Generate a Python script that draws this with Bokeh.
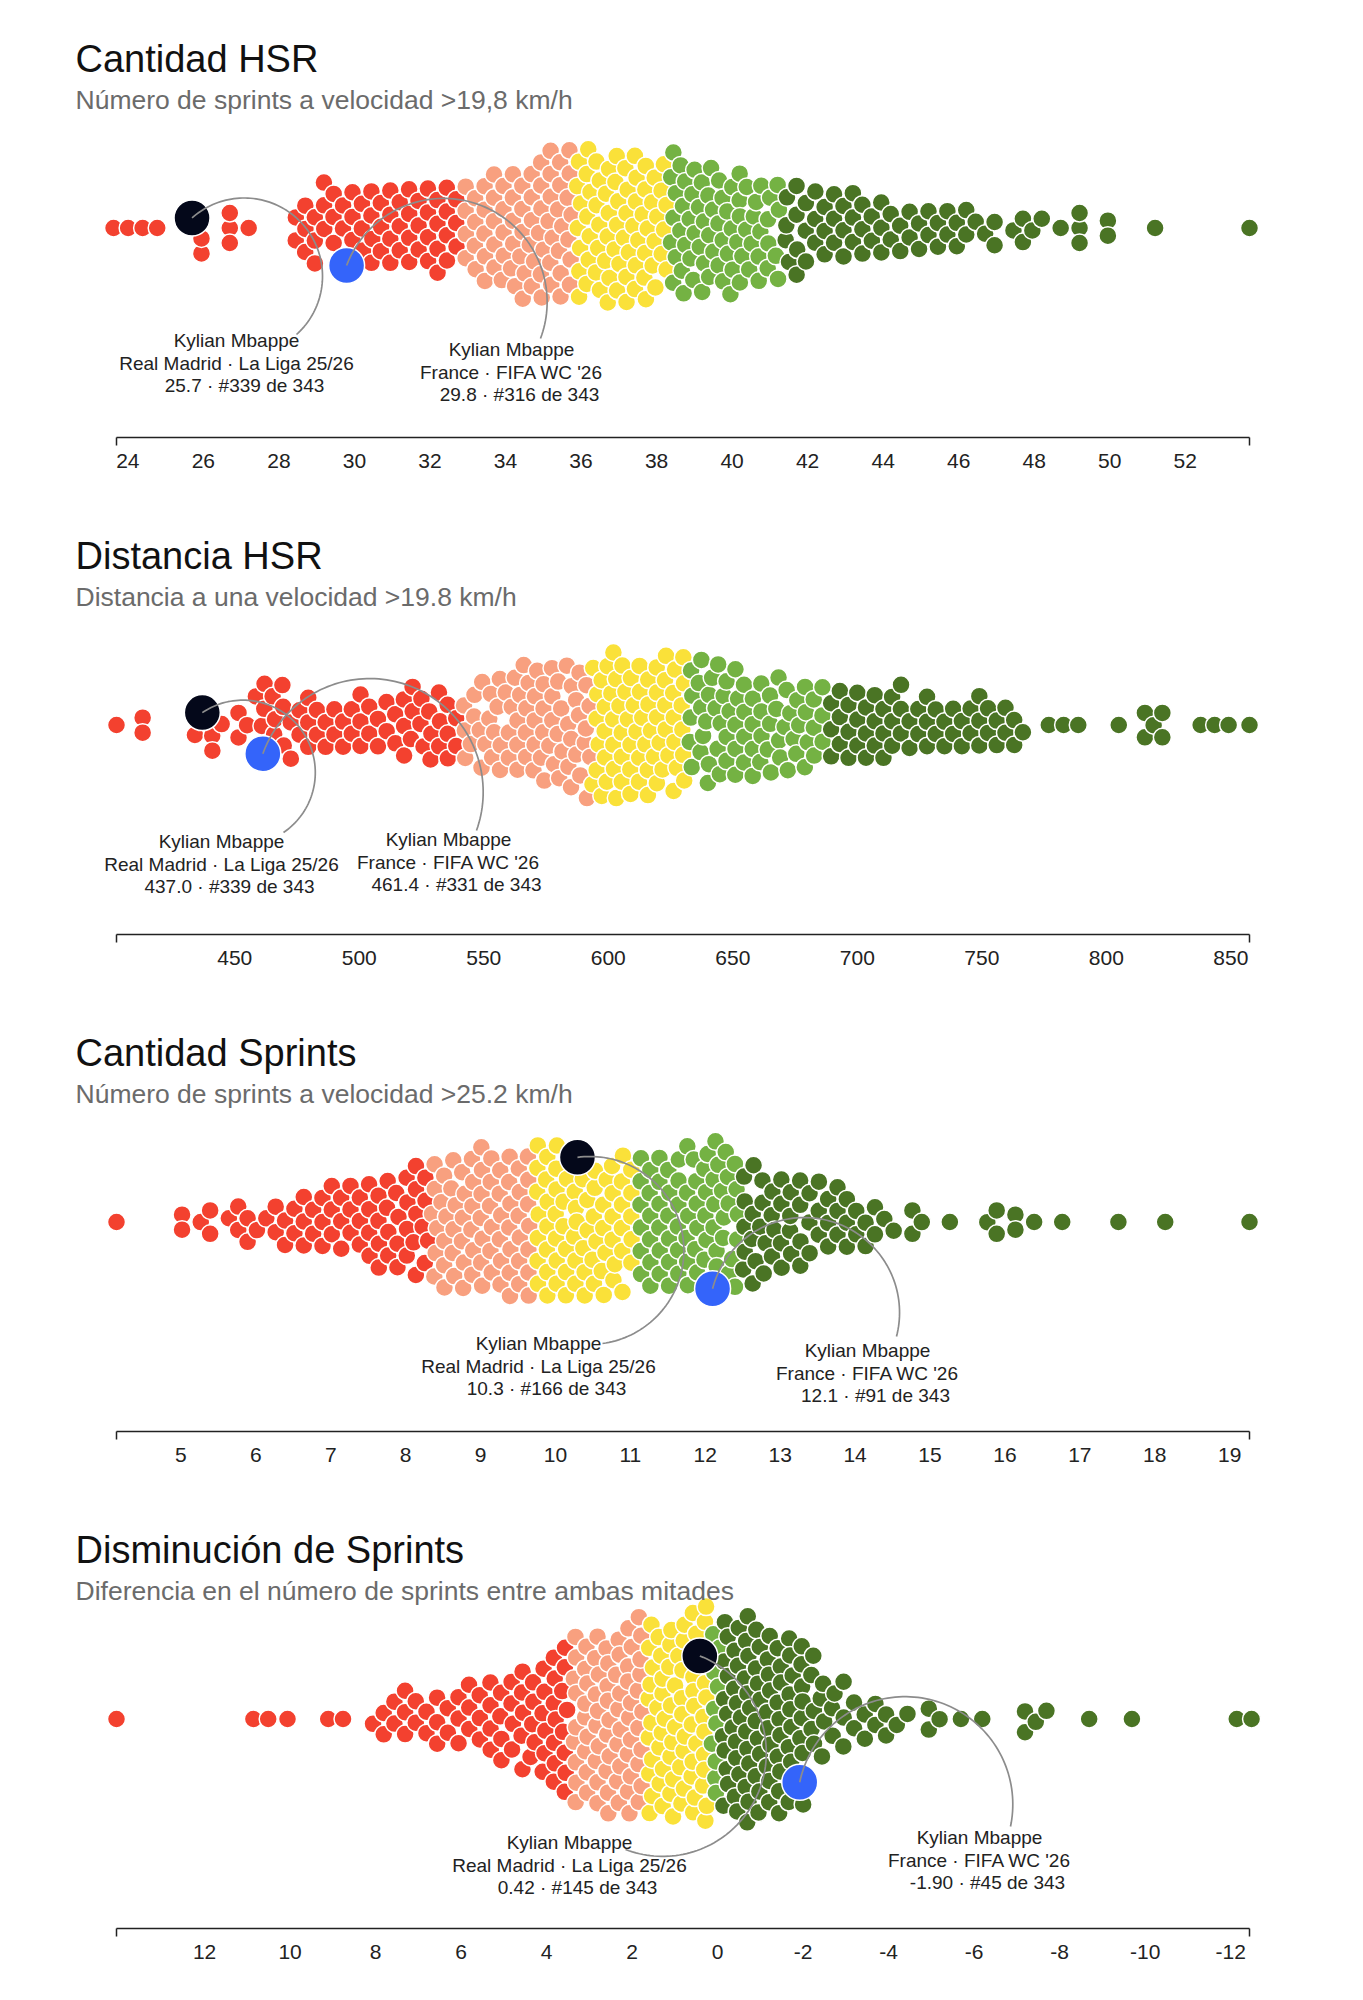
import numpy as np
from bokeh.plotting import figure
from bokeh.models import Range1d, LinearAxis, FixedTicker, Label
from bokeh.layouts import column
from bokeh.embed import file_html
from bokeh.resources import INLINE

N_PLAYERS = 343

# ---------------------------------------------------------------------------
# Data: number of players in each value bin (bin centre = start + step * i)
# ---------------------------------------------------------------------------

# Cantidad HSR
hsr_count_start = 23.7
hsr_count_step = 0.25
hsr_count_counts = [
    1, 1, 0, 1, 1, 0, 0, 0, 0, 2, 0, 0, 3, 0, 1, 0, 0, 0, 0,
    2, 3, 3, 3, 3, 2, 3, 3, 4, 3, 4, 3, 4, 3, 4, 4, 4, 3,
    4, 4, 5, 5, 5, 6, 6, 6, 7, 7, 7, 7,
    7, 7, 7, 7, 7, 7, 7, 7, 6, 6,
    7, 7, 6, 6, 6, 6, 6, 6, 5, 5, 4, 4,
    4, 4, 3, 3, 3, 3, 3, 3, 3, 2, 3, 2, 2, 2, 2, 2, 2, 2, 2, 2,
    1, 1, 2, 0, 1, 2, 1, 1, 0, 1, 0, 3, 0, 0, 2,
    0, 0, 0, 0, 1, 0, 0, 0, 0, 0, 0, 0, 0, 0, 1,
]
hsr_count_breaks = [32.8, 35.8, 38.3, 41.3]
hsr_count_ticks = [24, 26, 28, 30, 32, 34, 36, 38, 40, 42, 44, 46, 48, 50, 52]
hsr_count_mbappe = [25.7, 29.8]
hsr_count_rank = [339, 316]

# Distancia HSR
hsr_dist_start = 402.5
hsr_dist_step = 3.5
hsr_dist_counts = [
    1, 0, 0, 2, 0, 0, 0, 0, 0, 1, 0, 2, 1, 0, 2, 1, 1,
    3, 3, 3, 2, 2, 3, 2, 2, 2, 2, 2, 3, 2, 2, 2, 2, 3, 3, 3, 3, 3, 3, 2,
    3, 3, 4, 4, 4, 4, 5, 5, 5, 5, 5, 5, 6, 5, 6,
    6, 7, 7, 6, 6, 6, 6, 6, 6, 6, 6,
    5, 5, 5, 5, 5, 5, 4, 4, 4, 4, 4, 4, 4, 4, 3, 3,
    3, 3, 3, 3, 3, 3, 3, 3, 3, 2, 2,
    3, 2, 2, 2, 2, 2, 3, 2, 2, 2, 2,
    1, 0, 0, 1, 0, 1, 1, 0, 0, 0, 0, 1, 0, 0, 2, 1, 2, 0, 0, 0, 0, 1, 1, 1, 0, 0, 1,
]
hsr_dist_breaks = [540.75, 593.25, 631.75, 687.75]
hsr_dist_ticks = [450, 500, 550, 600, 650, 700, 750, 800, 850]
hsr_dist_mbappe = [437.0, 461.4]
hsr_dist_rank = [339, 331]

# Cantidad Sprints
sprint_count_start = 4.14
sprint_count_step = 0.125
sprint_count_counts = [
    1, 0, 0, 0, 0, 0, 0, 2, 0, 1, 2, 0, 1, 2, 2, 1,
    1, 2, 2, 2, 3, 2, 3, 3, 3, 3, 3, 4, 4, 4, 4, 4, 5, 5,
    6, 6, 6, 6, 6, 7, 6, 6, 7, 6, 7,
    7, 7, 7, 6, 6, 6, 6, 6, 6, 6, 5,
    6, 6, 6, 6, 6, 6, 6, 6, 7, 7, 6,
    5, 5, 5, 4, 4, 4, 4, 3, 3, 3, 3, 3, 2, 2, 2,
    1, 1, 0, 2, 1, 0, 0, 1, 0, 0, 0, 1, 2, 0, 2, 0, 1, 0, 0, 1,
    0, 0, 0, 0, 0, 1, 0, 0, 0, 0, 1, 0, 0, 0, 0, 0, 0, 0, 0, 1,
]
sprint_count_breaks = [8.33, 9.70, 11.08, 12.45]
sprint_count_ticks = [5, 6, 7, 8, 9, 10, 11, 12, 13, 14, 15, 16, 17, 18, 19]
sprint_count_mbappe = [10.3, 12.1]
sprint_count_rank = [166, 91]

# Disminución de Sprints (axis runs from high to low)
sprint_drop_start = -12.44
sprint_drop_step = 0.25
sprint_drop_counts = [
    1, 1, 0, 0, 0, 0, 0, 0, 0, 0, 0, 1, 0, 0, 0, 1, 0, 0, 0, 1, 1, 2,
    0, 0, 0, 1, 0, 1, 0, 1, 2, 0, 1,
    1, 2, 2, 2, 2, 3,
    3, 4, 5,
    8, 9, 10, 10, 11, 12, 12, 11,
    10,
    11, 11, 11, 11, 11, 11,
    11, 11, 10, 10, 10, 9, 9,
    8, 7, 6, 5, 5, 4, 4, 4, 3, 3, 3, 2, 3, 2, 2, 3, 2, 2, 1,
    0, 0, 1, 1, 0, 0, 0, 1, 0, 1, 1, 0, 0, 0, 0, 0, 0, 0, 0, 0, 0, 0, 0, 1,
]
sprint_drop_breaks = [-0.05, 0.2, 1.7, 3.45]
sprint_drop_ticks = [12, 10, 8, 6, 4, 2, 0, -2, -4, -6, -8, -10, -12]
sprint_drop_mbappe = [0.42, -1.90]
sprint_drop_rank = [145, 45]

PLAYER = "Kylian Mbappe"
TEAMS = ["Real Madrid \u00b7 La Liga 25/26", "France \u00b7 FIFA WC '26"]

# ---------------------------------------------------------------------------
# Styling / layout
# ---------------------------------------------------------------------------
RED, SALMON, YELLOW, LGREEN, DGREEN = "#f3412f", "#f8a07f", "#fae139", "#74b243", "#4a7424"
HI_COLORS = ["#04081a", "#3464fa"]
FONT = "Liberation Sans"

W, H = 1363, 497
FRAME_H = 437
AX_L, AX_R = 116.0, 1249.0
CY = 227.5
R_DOT, R_HI = 7.5, 15.0
D_DOT, D_HI = 18, 36

panels = [
    dict(title="Cantidad HSR", subtitle="N\u00famero de sprints a velocidad >19,8 km/h",
         start=hsr_count_start, step=hsr_count_step, counts=hsr_count_counts,
         breaks=hsr_count_breaks, ticks=hsr_count_ticks, hi=hsr_count_mbappe,
         rank=hsr_count_rank, fmt="{:.1f}", reverse=False,
         labels=[(236, 340), (511, 349)], ends=[(296, 334), (540, 338)]),
    dict(title="Distancia HSR", subtitle="Distancia a una velocidad >19.8 km/h",
         start=hsr_dist_start, step=hsr_dist_step, counts=hsr_dist_counts,
         breaks=hsr_dist_breaks, ticks=hsr_dist_ticks, hi=hsr_dist_mbappe,
         rank=hsr_dist_rank, fmt="{:.1f}", reverse=False,
         labels=[(221, 344), (448, 342)], ends=[(283, 335), (476, 333)]),
    dict(title="Cantidad Sprints", subtitle="N\u00famero de sprints a velocidad >25.2 km/h",
         start=sprint_count_start, step=sprint_count_step, counts=sprint_count_counts,
         breaks=sprint_count_breaks, ticks=sprint_count_ticks, hi=sprint_count_mbappe,
         rank=sprint_count_rank, fmt="{:.1f}", reverse=False,
         labels=[(538, 349), (867, 356)], ends=[(602, 349), (896, 342)]),
    dict(title="Disminuci\u00f3n de Sprints",
         subtitle="Diferencia en el n\u00famero de sprints entre ambas mitades",
         start=sprint_drop_start, step=sprint_drop_step, counts=sprint_drop_counts,
         breaks=sprint_drop_breaks, ticks=sprint_drop_ticks, hi=sprint_drop_mbappe,
         rank=sprint_drop_rank, fmt="{:.2f}", reverse=True,
         labels=[(569, 351), (979, 346)], ends=[(625, 358), (1010, 335)]),
]


def swarm(xt, rad, cy, side, n_iter=320):
    """Relaxation beeswarm: pull to target x and centre line, resolve overlaps."""
    n = len(xt)
    x = xt.astype(float).copy()
    y = np.full(n, float(cy))
    col = {}
    for k in np.argsort(xt, kind="stable"):
        if side[k] != 0:
            y[k] = cy + side[k] * 45.0
            continue
        key = round(float(xt[k]), 2)
        j = col.get(key, 0)
        col[key] = j + 1
        y[k] = cy + ((j + 1) // 2) * (1 if j % 2 else -1) * 2.0 * rad[k]
    R = rad[:, None] + rad[None, :]
    np.fill_diagonal(R, 0.0)
    r2 = rad ** 2
    Wt = r2[None, :] / (r2[:, None] + r2[None, :])
    for it in range(n_iter):
        a = max(0.0, 1.0 - it / (0.75 * n_iter))
        x += (xt - x) * 0.15
        y += (cy - y) * 0.03 * a
        for _ in range(2):
            dx = x[:, None] - x[None, :]
            dy = y[:, None] - y[None, :]
            d = np.sqrt(dx * dx + dy * dy)
            ov = R - d
            ov[ov < 0] = 0.0
            d[d < 1e-6] = 1e-6
            f = ov / d * Wt * 0.5
            x += (dx * f).sum(axis=1)
            y += (dy * f).sum(axis=1)
    return x, y


def arc_points(s, e, n=90):
    mx, my = (s[0] + e[0]) / 2.0, (s[1] + e[1]) / 2.0
    r = np.hypot(e[0] - s[0], e[1] - s[1]) / 2.0
    t0 = np.arctan2(s[1] - my, s[0] - mx)
    t = t0 + np.linspace(0.0, np.pi, n)
    return mx + r * np.cos(t), my + r * np.sin(t)


def make_panel(cfg):
    counts = np.array(cfg["counts"], int)
    centres = cfg["start"] + cfg["step"] * np.arange(len(counts))
    vals = np.repeat(centres, counts)
    hi = np.array(cfg["hi"], float)
    vmin, vmax = float(vals.min()), float(vals.max())
    k = (vmax - vmin) / (AX_R - AX_L)
    rev = cfg["reverse"]

    def to_px(v):
        return AX_L + ((vmax - v) if rev else (v - vmin)) / k

    def to_val(px):
        px = np.asarray(px, float)
        return (vmax - (px - AX_L) * k) if rev else (vmin + (px - AX_L) * k)

    palette = [RED, SALMON, YELLOW, LGREEN, DGREEN]
    if rev:
        palette = palette[::-1]
    colors = [palette[i] for i in np.searchsorted(cfg["breaks"], vals)]

    n = len(vals)
    xt = np.concatenate([to_px(vals), to_px(hi)])
    rad = np.concatenate([np.full(n, R_DOT), np.full(len(hi), R_HI)])
    side = np.concatenate([np.zeros(n), [-1, 1]])
    sx, sy = swarm(xt, rad, CY, side)

    p = figure(width=W, height=H, output_backend="svg", toolbar_location=None,
               x_range=Range1d(float(to_val(0)), float(to_val(W))),
               y_range=Range1d(FRAME_H, 0),
               x_axis_type=None, y_axis_type=None,
               min_border_left=0, min_border_right=0, min_border_top=0,
               min_border_bottom=H - FRAME_H)
    p.outline_line_color = None
    p.background_fill_color = "white"
    p.border_fill_color = "white"

    ax = LinearAxis(bounds=(vmin - 1e-9, vmax + 1e-9),
                    ticker=FixedTicker(ticks=cfg["ticks"], minor_ticks=[vmin, vmax]))
    ax.major_label_overrides = {t: str(t) for t in cfg["ticks"]}
    ax.axis_line_color = "#222222"
    ax.axis_line_width = 1.6
    ax.major_tick_in = 0
    ax.major_tick_out = 0
    ax.minor_tick_in = 0
    ax.minor_tick_out = 8
    ax.minor_tick_line_color = "#222222"
    ax.minor_tick_line_width = 1.5
    ax.major_label_text_font = FONT
    ax.major_label_text_font_size = "21px"
    ax.major_label_text_color = "#222222"
    ax.major_label_standoff = 8
    p.add_layout(ax, "below")

    order = np.argsort(sx[:n], kind="stable")
    p.scatter(x=to_val(sx[:n][order]), y=sy[:n][order], size=D_DOT,
              fill_color=[colors[i] for i in order], line_color="white", line_width=1.5)

    for j in range(len(hi)):
        p.scatter(x=[float(to_val(sx[n + j]))], y=[sy[n + j]], size=D_HI,
                  fill_color=HI_COLORS[j], line_color="white", line_width=1.5)

    for j in range(len(hi)):
        ax_px, ay = arc_points((sx[n + j], sy[n + j]), cfg["ends"][j])
        p.line(x=to_val(ax_px), y=ay, line_color="#8c8c8c", line_width=1.7)

    for j in range(len(hi)):
        cx, y1 = cfg["labels"][j]
        lines = [PLAYER, TEAMS[j],
                 "{} \u00b7 #{} de {}".format(cfg["fmt"].format(hi[j]), cfg["rank"][j], N_PLAYERS)]
        for li, txt in enumerate(lines):
            dx = 8 if li == 2 else 0
            p.add_layout(Label(x=float(to_val(cx + dx)), y=y1 + 22.5 * li, text=txt,
                               text_font=FONT, text_font_size="19px", text_color="#222222",
                               text_align="center", text_baseline="middle"))

    p.add_layout(Label(x=float(to_val(75)), y=58, text=cfg["title"], text_font=FONT,
                       text_font_size="38px", text_color="#111111",
                       text_align="left", text_baseline="alphabetic"))
    p.add_layout(Label(x=float(to_val(75)), y=99, text=cfg["subtitle"], text_font=FONT,
                       text_font_size="26.5px", text_color="#6b6b6b",
                       text_align="left", text_baseline="alphabetic"))
    return p


page = column(*[make_panel(c) for c in panels], spacing=0)
open("out.html", "w").write(file_html(page, INLINE))
